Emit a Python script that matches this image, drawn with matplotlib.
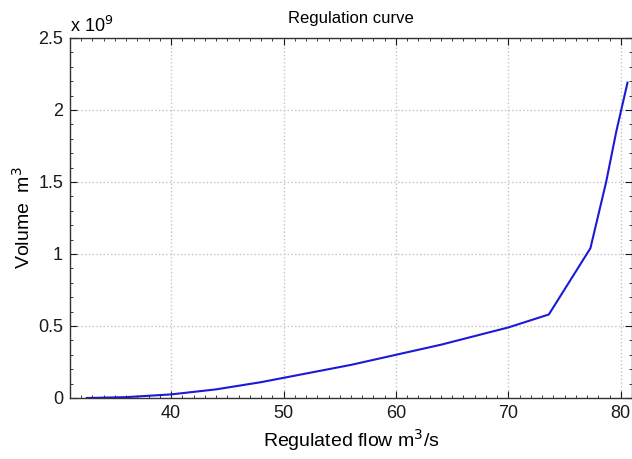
import matplotlib
matplotlib.use("Agg")
from matplotlib import pyplot as plt
from matplotlib.ticker import MultipleLocator

plt.rcParams['font.family'] = ['Liberation Sans', 'DejaVu Sans']

# regulated flow (m3/s) vs required volume (units of 1e9 m3)
flow = [32.5, 36, 40, 44, 48, 52, 56, 60, 64, 68, 70, 73.6, 77.3, 78.7, 79.6, 80.6]
volume = [0.0, 0.006, 0.025, 0.06, 0.11, 0.17, 0.23, 0.30, 0.37, 0.45, 0.49, 0.58, 1.04, 1.5, 1.85, 2.19]

fig = plt.figure(figsize=(6.32, 4.59), dpi=100)
ax = fig.add_axes([70/632, 61/459, 562/632, 360/459])

ax.plot(flow, volume, color='#1a1ad8', linewidth=1.5)

ax.set_xlim(31, 81)
ax.set_ylim(0, 2.5)
ax.xaxis.set_major_locator(MultipleLocator(10))
ax.xaxis.set_minor_locator(MultipleLocator(1))
ax.yaxis.set_minor_locator(MultipleLocator(0.1))
ax.set_yticks([0, 0.5, 1, 1.5, 2, 2.5])
ax.set_yticklabels(['0', '0.5', '1', '1.5', '2', '2.5'])

ax.tick_params(which='both', direction='in', top=True, right=True, labelsize=13, colors='#1a1a1a')
ax.tick_params(which='major', length=5, pad=5)
ax.tick_params(which='minor', length=2.5)
for s in ax.spines.values():
    s.set_color('#333333')
    s.set_linewidth(1.0)

ax.grid(True, which='major', linestyle=':', color='#c4c4c4', linewidth=1.0)

ax.text(0.0, 1.005, r'x 10$^9$', transform=ax.transAxes, fontsize=13, va='bottom', ha='left')
ax.set_title('Regulation curve', fontsize=12, pad=11)
ax.set_xlabel('Regulated flow m$^3$/s', fontsize=14, labelpad=4)
ax.set_ylabel('Volume  m$^3$', fontsize=14, labelpad=3)

plt.savefig('out.png', dpi=100)
